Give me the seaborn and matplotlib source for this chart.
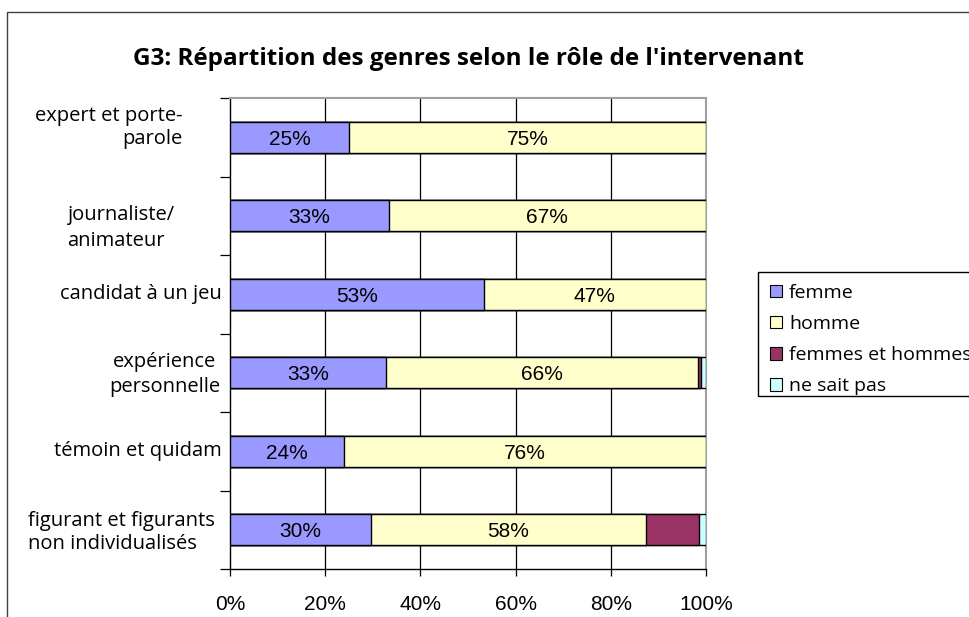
import matplotlib
matplotlib.use("Agg")
import matplotlib.pyplot as plt
import matplotlib.patches as mpatches
import matplotlib.transforms as mtransforms
import seaborn as sns
import pandas as pd

roles = ["expert et porte-\nparole", "journaliste/\nanimateur", "candidat à un jeu",
         "expérience\npersonnelle", "témoin et quidam",
         "figurant et figurants\nnon individualisés"]
femme = [25.0, 33.3, 53.3, 32.8, 24.0, 29.6]
homme = [75.0, 66.7, 46.7, 65.6, 76.0, 57.8]
femmes_hommes = [0.0, 0.0, 0.0, 0.6, 0.0, 11.1]
ne_sait_pas = [0.0, 0.0, 0.0, 1.0, 0.0, 1.5]

series = ["femme", "homme", "femmes et hommes", "ne sait pas"]
colors = ["#9999FF", "#FFFFCC", "#993366", "#CCFFFF"]

df = pd.DataFrame({"role": roles, "femme": femme, "homme": homme,
                   "femmes et hommes": femmes_hommes, "ne sait pas": ne_sait_pas})
cum = df[series].cumsum(axis=1)
cum["role"] = df["role"]

sns.set_style("white")
plt.rcParams["font.family"] = ["Open Sans", "DejaVu Sans"]
plt.rcParams["text.color"] = "black"
plt.rcParams["xtick.color"] = "black"
plt.rcParams["ytick.color"] = "black"
plt.rcParams["axes.labelcolor"] = "black"

fig = plt.figure(figsize=(9.7, 6.17), dpi=100)
ax = fig.add_axes([230 / 970, 1 - 569 / 617, 476 / 970, 471 / 617])

# stacked bars: draw cumulative totals from the largest down
for name, col in reversed(list(zip(series, colors))):
    sns.barplot(data=cum, y="role", x=name, color=col, orient="h", width=0.4,
                edgecolor="black", linewidth=1.0, saturation=1, ax=ax, zorder=3)

for i in range(len(roles)):
    ax.text(femme[i] / 2, i, f"{femme[i]:.0f}%", ha="center", va="center_baseline",
            fontsize=15, family="Liberation Sans", zorder=5)
    ax.text(femme[i] + homme[i] / 2, i, f"{homme[i]:.0f}%", ha="center", va="center_baseline",
            fontsize=15, family="Liberation Sans", zorder=5)

ax.set_xlim(0, 100)
ax.set_ylim(5.5, -0.5)
ax.set_xlabel("")
ax.set_ylabel("")
ax.set_xticks([0, 20, 40, 60, 80, 100])
ax.set_xticklabels(["0%", "20%", "40%", "60%", "80%", "100%"], family="Liberation Sans", fontsize=15)
for v in [20, 40, 60, 80]:
    ax.axvline(v, color="black", lw=0.9, zorder=1)

ax.set_yticks(range(len(roles)))
ax.set_yticklabels([])
ax.set_yticks([k + 0.5 for k in range(-1, len(roles))], minor=True)
ax.tick_params(axis="y", which="major", length=0)
ax.tick_params(axis="y", which="minor", left=True, length=7, width=0.9, color="black", direction="out")
ax.tick_params(axis="x", bottom=True, length=5, width=0.9, color="black", direction="out", pad=14)

# category labels placed like the original (mixed alignment)
trans = mtransforms.blended_transform_factory(fig.transFigure, ax.transData)
label_x = [183, 67, 222, 165, 222, 28]
label_ha = ["right", "left", "right", "center", "right", "left"]
label_dy = [-0.13, 0.15, 0.0, 0.02, 0.0, 0.03]
label_ls = [1.2, 1.4, 1.2, 1.3, 1.2, 1.2]
for i, lab in enumerate(roles):
    ax.text(label_x[i] / 970, i + label_dy[i], lab, transform=trans, ha=label_ha[i],
            va="center", multialignment=label_ha[i], linespacing=label_ls[i],
            fontsize=14.5, clip_on=False)

for s in ["left", "bottom"]:
    ax.spines[s].set_color("black")
    ax.spines[s].set_linewidth(1.0)
for s in ["top", "right"]:
    ax.spines[s].set_color("#A0A0A0")
    ax.spines[s].set_linewidth(1.5)

fig.text(468 / 970, 1 - 59 / 617, "G3: Répartition des genres selon le rôle de l'intervenant",
         ha="center", va="center", fontsize=17.5, fontweight="bold")

handles = [mpatches.Patch(facecolor=c, edgecolor="black", lw=0.8) for c in colors]
leg = fig.legend(handles, series, loc="upper left", bbox_to_anchor=(770 / 970, 1 - 284 / 617),
                 fontsize=14, frameon=False,
                 handlelength=0.62, handleheight=0.62, handletextpad=0.36,
                 labelspacing=0.67, borderpad=0, borderaxespad=0)
# legend box, running off the right edge like the original
fig.patches.append(mpatches.Rectangle((758 / 970, 1 - 396 / 617), 0.5, 124 / 617,
                                      transform=fig.transFigure, fill=False,
                                      edgecolor="black", lw=1.0))

fig.patches.append(mpatches.Rectangle((7 / 970, -0.1), 2, 1 - 12 / 617 + 0.1,
                                      transform=fig.transFigure, fill=False,
                                      edgecolor="#404040", lw=1.0))

fig.savefig("out.png", dpi=100)
